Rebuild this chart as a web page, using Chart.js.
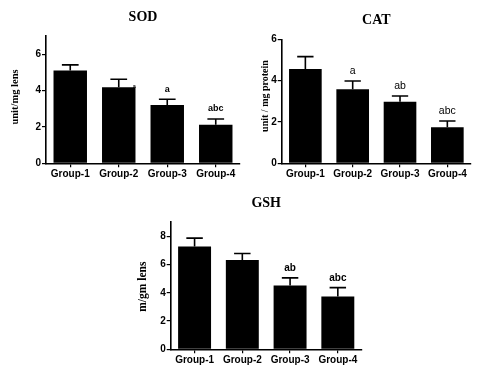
<!DOCTYPE html>
<html><head><meta charset="utf-8">
<script src="https://cdn.jsdelivr.net/npm/chart.js@4.4.0/dist/chart.umd.min.js"></script>
<style>
html,body{margin:0;padding:0;background:#fff;width:500px;height:374px;overflow:hidden}
.box{position:absolute}
</style></head><body>
<div class="box" style="left:0;top:0;width:250px;height:190px"><canvas id="sod"></canvas></div>
<div class="box" style="left:250px;top:0;width:250px;height:190px"><canvas id="cat"></canvas></div>
<div class="box" style="left:130px;top:190px;width:250px;height:184px"><canvas id="gsh"></canvas></div>
<script>
const groups = ['Group-1', 'Group-2', 'Group-3', 'Group-4'];

const sodMean = [5.10, 4.18, 3.21, 2.12];
const sodErr = [0.31, 0.44, 0.31, 0.32];
const sodLetters = ['', 'a', 'a', 'abc'];

const catMean = [4.56, 3.58, 2.98, 1.74];
const catErr = [0.60, 0.40, 0.28, 0.31];
const catLetters = ['', 'a', 'ab', 'abc'];

const gshMean = [7.29, 6.32, 4.52, 3.74];
const gshErr = [0.59, 0.47, 0.54, 0.63];
const gshLetters = ['', '', 'ab', 'abc'];

const sodTicks = [0, 2, 4, 6];
const catTicks = [0, 2, 4, 6];
const gshTicks = [0, 2, 4, 6, 8];

const overlay = {
  id: 'overlay',
  afterDatasetsDraw(chart, args, o) {
    const ctx = chart.ctx;
    const meta = chart.getDatasetMeta(0);
    const ys = chart.scales.y;
    const area = chart.chartArea;
    ctx.save();
    ctx.strokeStyle = '#000';
    ctx.fillStyle = '#000';
    ctx.lineWidth = 1.6;
    meta.data.forEach((bar, i) => {
      const top = ys.getPixelForValue(o.means[i]);
      const cap = ys.getPixelForValue(o.means[i] + o.errs[i]);
      const hw = bar.width * 0.25;
      ctx.beginPath();
      ctx.moveTo(bar.x, top);
      ctx.lineTo(bar.x, cap);
      ctx.moveTo(bar.x - hw, cap);
      ctx.lineTo(bar.x + hw, cap);
      ctx.stroke();
      const L = o.letters[i];
      if (L) {
        ctx.textAlign = 'center';
        ctx.textBaseline = 'middle';
        if (o.tiny && o.tiny[i]) {
          ctx.font = 'bold 5px "Liberation Sans"';
          ctx.fillText(L, bar.x + bar.width / 2 - 1, top - 1);
        } else {
          ctx.font = o.letterFont;
          ctx.fillText(L, bar.x, cap - o.letterGap);
        }
      }
    });
    // title
    ctx.font = 'bold 14px "Liberation Serif"';
    ctx.textAlign = 'center';
    ctx.textBaseline = 'middle';
    ctx.fillText(o.title, (area.left + area.right) / 2, o.titleY);
    // y label
    ctx.font = o.yLabelFont;
    ctx.translate(o.yLabelX, o.yLabelY);
    ctx.rotate(-Math.PI / 2);
    ctx.fillText(o.yLabel, 0, 0);
    ctx.restore();
  }
};

function makeChart(id, c) {
  new Chart(document.getElementById(id), {
    type: 'bar',
    data: {
      labels: groups,
      datasets: [{ data: c.means, backgroundColor: '#000', borderWidth: 0,
        categoryPercentage: 1, barPercentage: 0.69 }]
    },
    options: {
      responsive: true, maintainAspectRatio: false, animation: false,
      layout: { padding: { left: 0, right: c.padRight, top: c.padTop, bottom: 0 } },
      plugins: {
        legend: { display: false }, tooltip: { enabled: false }, title: { display: false },
        overlay: c
      },
      scales: {
        x: {
          offset: true,
          grid: { drawOnChartArea: false, offset: false, tickLength: 4, color: '#000', lineWidth: 1.2 },
          border: { color: '#000', width: 1.6 },
          ticks: { color: '#000', font: { family: 'Liberation Sans', weight: 'bold', size: 10 }, padding: 1, maxRotation: 0 },
          afterFit(s) { s.height = c.xHeight; }
        },
        y: {
          min: 0, max: c.yMax,
          grid: { drawOnChartArea: false, tickLength: 4, color: '#000', lineWidth: 1.2 },
          border: { color: '#000', width: 1.6 },
          ticks: { color: '#000', font: { family: 'Liberation Sans', weight: 'bold', size: 10 }, padding: 1 },
          afterBuildTicks(s) { s.ticks = c.ticks.map(v => ({ value: v })); },
          afterFit(s) { s.width = c.yWidth; }
        }
      }
    },
    plugins: [overlay]
  });
}

makeChart('sod', {
  means: sodMean, errs: sodErr, letters: sodLetters, tiny: [false, true, false, false],
  letterFont: 'bold 9px "Liberation Sans"', letterGap: 10,
  yMax: 7, ticks: sodTicks, yWidth: 46, padRight: 10, padTop: 36, xHeight: 26.7,
  title: 'SOD', titleY: 17,
  yLabel: 'unit/mg lens', yLabelFont: 'bold 10.5px "Liberation Serif"', yLabelX: 15, yLabelY: 97
});
makeChart('cat', {
  means: catMean, errs: catErr, letters: catLetters,
  letterFont: '10.5px "Liberation Sans"', letterGap: 10,
  yMax: 6, ticks: catTicks, yWidth: 31.7, padRight: 29, padTop: 39.3, xHeight: 26.7,
  title: 'CAT', titleY: 20,
  yLabel: 'unit / mg protein', yLabelFont: 'bold 10px "Liberation Serif"', yLabelX: 15, yLabelY: 96
});
makeChart('gsh', {
  means: gshMean, errs: gshErr, letters: gshLetters,
  letterFont: 'bold 10px "Liberation Sans"', letterGap: 9.5,
  yMax: 9, ticks: gshTicks, yWidth: 40.7, padRight: 18.3, padTop: 32.3, xHeight: 24.7,
  title: 'GSH', titleY: 13,
  yLabel: 'm/gm lens', yLabelFont: 'bold 11.5px "Liberation Serif"', yLabelX: 13.3, yLabelY: 96.7
});
</script>
</body></html>
